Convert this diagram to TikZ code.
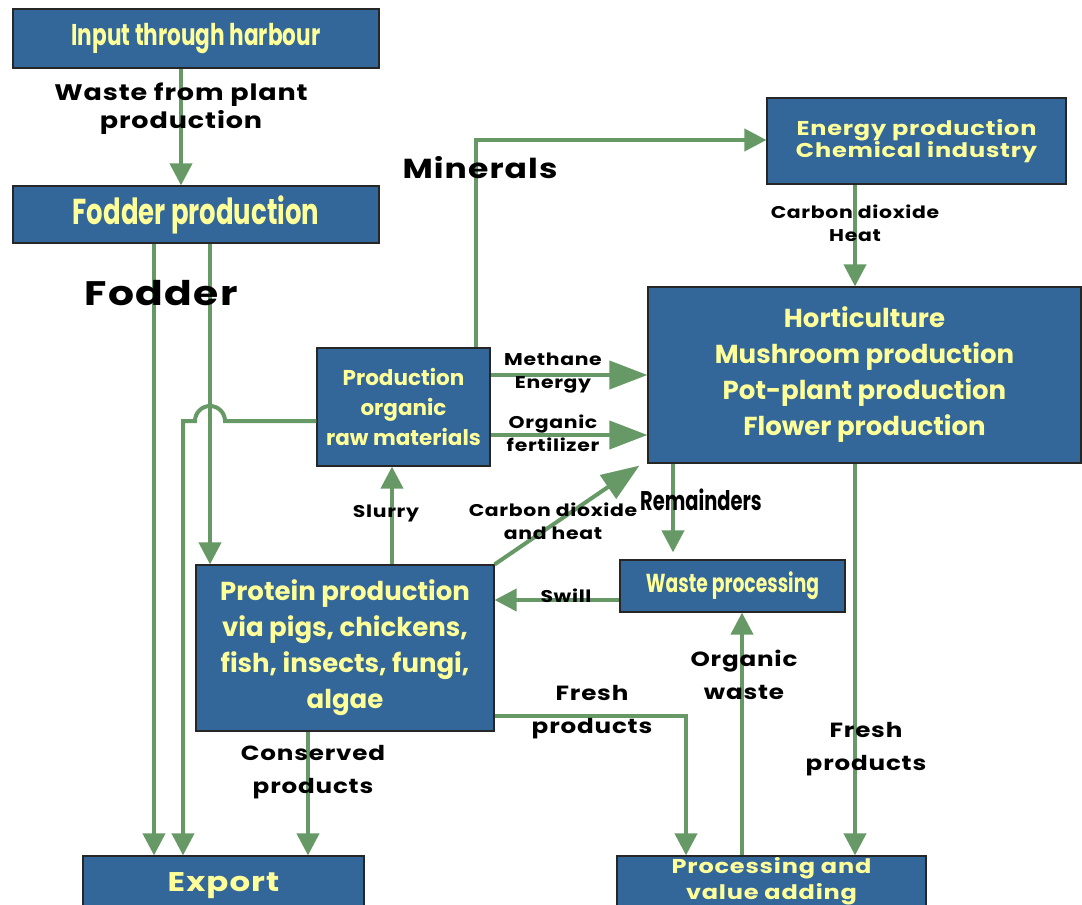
\documentclass[tikz,border=0pt]{standalone}
\usepackage{fontspec}
\setmainfont{Poppins}
\newfontfamily\narrowfont[FakeStretch=0.72]{Poppins}
\newfontfamily\labelfont[FakeStretch=1.2,LetterSpace=4]{Poppins}
\usetikzlibrary{arrows.meta}
\usetikzlibrary{positioning,calc}

\definecolor{boxblue}{HTML}{336699}
\definecolor{boxtext}{HTML}{FFFF99}
\definecolor{flowgreen}{HTML}{669966}

\begin{document}
\begin{tikzpicture}[x=1pt,y=-1pt,
         box/.style = {draw=black!85, line width=1.2pt, fill=boxblue,
         text=boxtext, align=center, inner sep=0pt},
         flow/.style = {draw=flowgreen, line width=4pt,
         -{Triangle[length=22pt,width=22pt]}},
         bigflow/.style = {flow, -{Triangle[length=38pt,width=28pt]}},
         lbl/.style = {align=center, font=\labelfont\bfseries\fontsize{22.5}{28}\selectfont},
         biglbl/.style = {align=center, font=\labelfont\bfseries\fontsize{20.5}{33}\selectfont},
         smalllbl/.style = {align=center, font=\labelfont\bfseries\fontsize{17}{23}\selectfont}
]
      \useasboundingbox (0,0) rectangle (1082,905);

      % boxes
      \node[box, minimum width=366pt, minimum height=59pt,
         font=\narrowfont\bfseries\fontsize{30}{34}\selectfont] (harbour) at (196,38.5)
         {Input through harbour};
      \node[box, minimum width=366pt, minimum height=57pt,
         font=\narrowfont\bfseries\fontsize{36}{40}\selectfont] (fodder) at (196,214.5)
         {Fodder production};
      \node[box, minimum width=299pt, minimum height=86pt,
         font=\labelfont\bfseries\fontsize{20}{22}\selectfont] (energy) at (916.5,141)
         {Energy production\\Chemical industry};
      \node[box, minimum width=433pt, minimum height=176pt,
         font=\bfseries\fontsize{26}{36}\selectfont] (horti) at (864.5,375)
         {Horticulture\\Mushroom production\\Pot-plant production\\Flower production};
      \node[box, minimum width=173pt, minimum height=118pt, text depth=-5pt,
         font=\bfseries\fontsize{21.5}{30}\selectfont] (organic) at (403.5,407)
         {Production\\organic\\raw materials};
      \node[box, minimum width=298pt, minimum height=166pt,
         font=\bfseries\fontsize{26}{36}\selectfont] (protein) at (345,648)
         {Protein production\\via pigs, chickens,\\fish, insects, fungi,\\algae};
      \node[box, minimum width=225pt, minimum height=52pt,
         font=\narrowfont\bfseries\fontsize{26}{30}\selectfont] (waste) at (732.5,586)
         {Waste processing};
      \node[box, minimum width=281pt, minimum height=60pt,
         font=\labelfont\bfseries\fontsize{27}{30}\selectfont] (export) at (223.5,886)
         {Export};
      \node[box, minimum width=309pt, minimum height=50pt,
         font=\labelfont\bfseries\fontsize{20}{26}\selectfont] (proc) at (771.5,881)
         {Processing and\\value adding};

      % turning points
      \coordinate (hop) at (210,421);
      \coordinate (drop) at (183,421);
      \coordinate (minturn) at (476,140);

      % flows
      \draw[flow] ([xshift=-15pt]harbour.south) -- ([xshift=-15pt]fodder.north);
      \draw[flow] ([xshift=-42pt]fodder.south) -- ([xshift=-42pt]fodder.south |- export.north);
      \draw[flow] ([xshift=14pt]fodder.south) -- ([xshift=14pt]fodder.south |- protein.north);
      \draw[flow] (organic.west |- hop) -- ([xshift=15pt]hop)
         arc[start angle=0, end angle=180, radius=15pt] -- (drop) -- (drop |- export.north);
      \draw[flow] (organic.north -| minturn) -- (minturn) -- (energy.west |- minturn);
      \draw[flow] ([xshift=-61.5pt]energy.south) -- ([xshift=-61.5pt]energy.south |- horti.north);
      \draw[bigflow] (organic.east |- horti.west) -- (horti.west);
      \draw[bigflow] ([yshift=-28pt]organic.east) -- ([yshift=-28pt]organic.east -| horti.west);
      \draw[bigflow] (protein.north east) -- ([xshift=-8pt,yshift=-2pt]horti.south west);
      \draw[flow] ([xshift=47pt]protein.north) -- ([xshift=47pt]protein.north |- organic.south);
      \draw[flow] ([xshift=-191.5pt]horti.south) -- ([xshift=-191.5pt,yshift=7pt]horti.south |- waste.north);
      \draw[flow] ([yshift=-14pt]waste.west) -- ([yshift=-14pt]waste.west -| protein.east);
      \draw[flow] ([xshift=-29.5pt]proc.north) -- ([xshift=-29.5pt]proc.north |- waste.south);
      \draw[flow] ([xshift=-9.5pt]horti.south) -- ([xshift=-9.5pt]horti.south |- proc.north);
      \draw[flow] ([yshift=-68pt]protein.east) -| ([xshift=-85.5pt]proc.north);
      \draw[flow] ([xshift=-37pt]protein.south) -- ([xshift=-37pt]protein.south |- export.north);

      % labels
      \node[lbl] (lwaste) at (181,109) {Waste from plant\\production};
      \node[biglbl, font=\labelfont\bfseries\fontsize{34}{36}\selectfont] (lfodder) at (161,293) {Fodder};
      \node[biglbl, font=\labelfont\bfseries\fontsize{27.5}{32}\selectfont] (lminerals) at (480,168) {Minerals};
      \node[smalllbl] (lco2) at (855,223.5) {Carbon dioxide\\Heat};
      \node[smalllbl] (lmethane) at (553,373.5) {Methane\\Energy};
      \node[smalllbl] (lfert) at (553,433) {Organic\\fertilizer};
      \node[smalllbl] (lco2heat) at (553,521.5) {Carbon dioxide\\and heat};
      \node[smalllbl] (lslurry) at (386,513) {Slurry};
      \node[smalllbl] (lswill) at (566,596) {Swill};
      \node[font=\narrowfont\bfseries\fontsize{27}{30}\selectfont] (lremain) at (701,500) {Remainders};
      \node[biglbl] (lorgwaste) at (744,675) {Organic\\waste};
      \node[biglbl] (lfreshr) at (866,749) {Fresh\\products};
      \node[biglbl] (lfreshl) at (592,712) {Fresh\\products};
      \node[biglbl] (lconserved) at (313,772.5) {Conserved\\products};
\end{tikzpicture}
\end{document}
